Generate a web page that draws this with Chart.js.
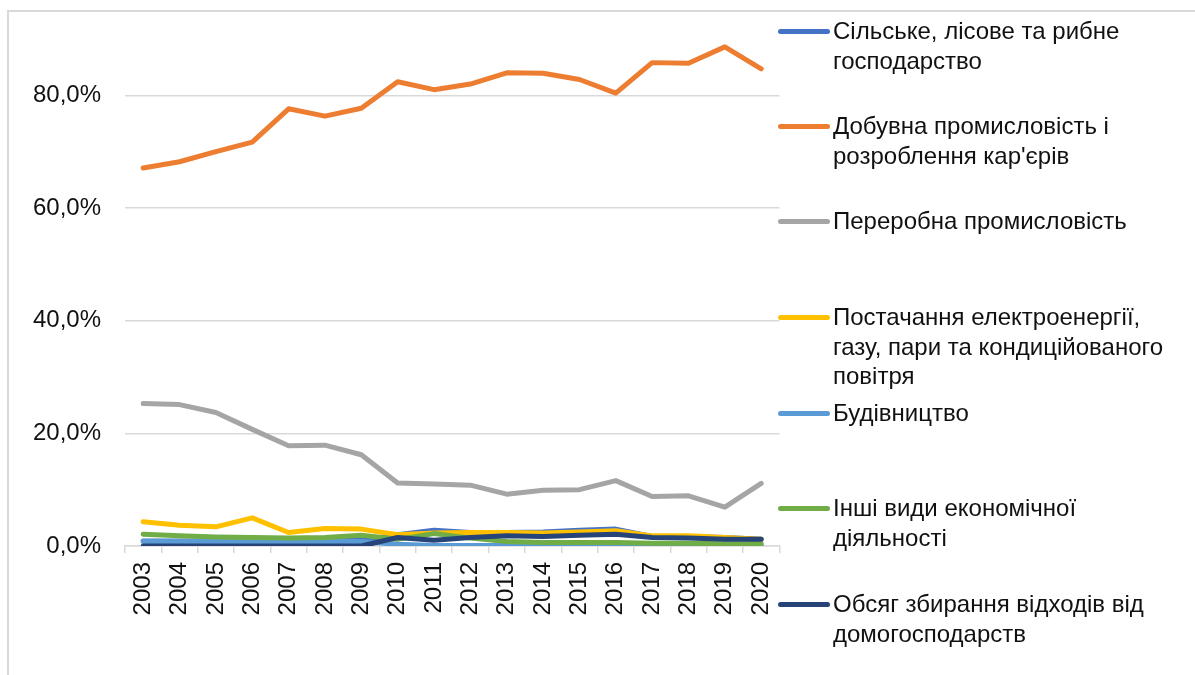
<!DOCTYPE html>
<html>
<head>
<meta charset="utf-8">
<script src="https://cdn.jsdelivr.net/npm/chart.js@4/dist/chart.umd.min.js"></script>
<style>
  html, body { margin: 0; padding: 0; background: #fff; }
  body { width: 1195px; height: 675px; position: relative; overflow: hidden;
         font-family: 'Liberation Sans', Arial, sans-serif; }
  #frame { position: absolute; left: 7px; top: 10px; width: 1300px; height: 800px;
           border-left: 2px solid #d9d9d9; border-top: 2px solid #d9d9d9; }
  #wrap { position: absolute; left: 0; top: 0; width: 799px; height: 675px; }
  #legend { position: absolute; left: 0; top: 0; }
  .item { position: absolute; left: 778px; }
  .swatch { position: absolute; left: 0; width: 52px; height: 5px; border-radius: 2.5px; }
  .label { position: absolute; left: 55px; font-size: 24px; line-height: 29.5px;
           color: #111; white-space: pre; }
</style>
</head>
<body>
<div id="frame"></div>
<div id="wrap"><canvas id="chart"></canvas></div>
<div id="legend"></div>
<script>
// -----------------------------
// Data
// -----------------------------
const years = ['2003', '2004', '2005', '2006', '2007', '2008', '2009', '2010', '2011',
               '2012', '2013', '2014', '2015', '2016', '2017', '2018', '2019', '2020'];

const agriculture  = [0.9, 0.9, 0.9, 0.9, 0.9, 0.9, 1.0, 2.0, 2.8, 2.4, 2.4, 2.5, 2.8, 3.0, 1.7, 1.7, 1.5, 1.2];
const mining       = [67.1, 68.2, 70.0, 71.7, 77.6, 76.3, 77.7, 82.4, 81.0, 82.0, 84.0, 83.9, 82.8, 80.4, 85.8, 85.7, 88.6, 84.7];
const manufacture  = [25.3, 25.1, 23.7, 20.7, 17.8, 17.9, 16.2, 11.2, 11.0, 10.8, 9.2, 9.9, 10.0, 11.6, 8.8, 8.9, 6.9, 11.1];
const energy       = [4.3, 3.7, 3.4, 5.0, 2.4, 3.1, 3.0, 2.0, 2.3, 2.4, 2.4, 2.3, 2.5, 2.7, 1.8, 1.8, 1.5, 1.2];
const construction = [0.8, 0.8, 0.8, 0.8, 0.8, 0.8, 0.8, 0.3, 0.1, 0.1, 0.1, 0.1, 0.1, 0.1, 0.1, 0.1, 0.1, 0.1];
const otherActs    = [2.1, 1.8, 1.6, 1.5, 1.4, 1.5, 1.9, 1.2, 2.2, 1.4, 0.8, 0.6, 0.6, 0.6, 0.5, 0.5, 0.4, 0.4];
const households   = [0.0, 0.0, 0.0, 0.0, 0.0, 0.0, 0.0, 1.5, 1.0, 1.5, 1.8, 1.7, 1.9, 2.1, 1.5, 1.4, 1.2, 1.2];

const yTicks = [0, 20, 40, 60, 80];

const seriesNames = [
    'Сільське, лісове та рибне\nгосподарство',
    'Добувна промисловість і\nрозроблення кар\'єрів',
    'Переробна промисловість',
    'Постачання електроенергії,\nгазу, пари та кондиційованого\nповітря',
    'Будівництво',
    'Інші види економічної\nдіяльності',
    'Обсяг збирання відходів від\nдомогосподарств'
];
const seriesData = [agriculture, mining, manufacture, energy, construction, otherActs, households];
const colors = ['#4472C4', '#ED7D31', '#A5A5A5', '#FFC000', '#5B9BD5', '#70AD47', '#264478'];

// legend rows (centre of first text line)
const legendY = [31, 126, 221, 317, 413, 508, 604];

// -----------------------------
// Legend
// -----------------------------
const legendEl = document.getElementById('legend');
seriesNames.forEach((name, i) => {
    const item = document.createElement('div');
    item.className = 'item';
    item.style.top = (legendY[i] - 14.75) + 'px';
    item.innerHTML = '<div class="swatch" style="top:12.25px;background:' + colors[i] + '"></div>' +
                     '<div class="label"></div>';
    item.querySelector('.label').textContent = name;
    legendEl.appendChild(item);
});

// -----------------------------
// Chart
// -----------------------------
const font = { family: "'Liberation Sans', Arial, sans-serif", size: 24 };

new Chart(document.getElementById('chart'), {
    type: 'line',
    data: {
        labels: years,
        datasets: seriesData.map((d, i) => ({
            label: seriesNames[i],
            data: d,
            borderColor: colors[i],
            backgroundColor: colors[i],
            borderWidth: 5,
            borderCapStyle: 'round',
            borderJoinStyle: 'round',
            pointRadius: 0,
            tension: 0,
            order: seriesData.length - i
        }))
    },
    options: {
        responsive: true,
        maintainAspectRatio: false,
        animation: false,
        layout: { padding: { top: 16, right: 0, bottom: 0, left: 0 } },
        plugins: { legend: { display: false }, tooltip: { enabled: false } },
        scales: {
            x: {
                offset: true,
                grid: { display: true, drawOnChartArea: false, drawTicks: true, tickLength: 7,
                        color: '#d9d9d9', lineWidth: 1.5, offset: true },
                border: { display: true, color: '#d9d9d9', width: 1.5 },
                ticks: { font: font, color: '#111', minRotation: 90, maxRotation: 90, padding: 9,
                         autoSkip: false },
                afterFit: axis => { axis.height = 129; }
            },
            y: {
                min: 0,
                max: 90.1,
                grid: { color: '#d9d9d9', lineWidth: 1.5, drawTicks: false },
                border: { display: false },
                ticks: {
                    font: font, color: '#111', padding: 24, stepSize: 20,
                    callback: v => v.toFixed(1).replace('.', ',') + '%'
                },
                afterBuildTicks: axis => {
                    axis.ticks = yTicks.map(v => ({ value: v }));
                },
                afterFit: axis => { axis.width = 125; }
            }
        }
    }
});
</script>
</body>
</html>
